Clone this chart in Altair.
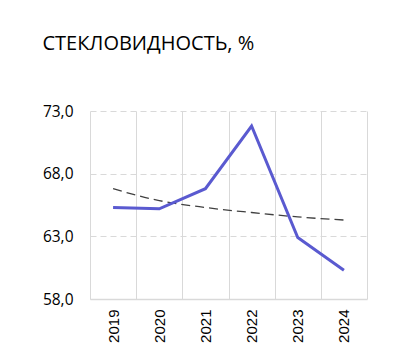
import altair as alt
import pandas as pd

years = ["2019", "2020", "2021", "2022", "2023", "2024"]
values = [65.3, 65.2, 66.8, 71.8, 62.9, 60.3]
trend = [66.8, 65.85, 65.3, 64.9, 64.55, 64.3]
y_ticks = [58, 63, 68, 73]

df = pd.DataFrame({"year": years, "value": values, "trend": trend})

x_enc = alt.X(
    "year:N",
    title=None,
    sort=years,
    scale=alt.Scale(paddingInner=0, paddingOuter=0),
    axis=alt.Axis(
        labelAngle=-90,
        labelAlign="right",
        labelBaseline="middle",
        labelFont="Liberation Sans",
        labelFontSize=15,
        labelColor="#000000",
        labelPadding=10,
        grid=True,
        gridColor="#d9d9d9",
        gridWidth=1,
        tickBand="extent",
        ticks=False,
        domain=True,
        domainColor="#d9d9d9",
        domainWidth=1.5,
    ),
)

y_scale = alt.Scale(domain=[58, 73], nice=False, zero=False)

line = alt.Chart(df).mark_line(color="#5A5AD0", strokeWidth=3).encode(
    x=x_enc,
    y=alt.Y(
        "value:Q",
        title=None,
        scale=y_scale,
        axis=alt.Axis(
            values=y_ticks,
            labelExpr="replace(format(datum.value, '.1f'), '.', ',')",
            labelFont="Open Sans",
            labelFontSize=15.5,
            labelColor="#000000",
            labelPadding=17,
            grid=True,
            gridColor="#d9d9d9",
            gridDash=[6, 4],
            gridWidth=1.2,
            ticks=False,
            domain=False,
        ),
    ),
)

trend_line = alt.Chart(df).mark_line(
    color="#404040", strokeWidth=1.3, strokeDash=[9, 5], interpolate="monotone"
).encode(
    x=alt.X("year:N", sort=years),
    y=alt.Y("trend:Q", scale=y_scale),
)

chart = (
    alt.layer(trend_line, line)
    .properties(
        width=277,
        height=188,
        autosize=alt.AutoSizeParams(type="none"),
        padding={"left": 82, "top": 103, "right": 19, "bottom": 50},
        title=alt.TitleParams(
            "СТЕКЛОВИДНОСТЬ, %",
            anchor="start",
            font="Open Sans",
            fontSize=20,
            fontWeight="normal",
            color="#000000",
            offset=50,
        ),
    )
    .configure_view(stroke=None)
)

chart.save("out.html", embed_options={"renderer": "svg", "actions": False})
